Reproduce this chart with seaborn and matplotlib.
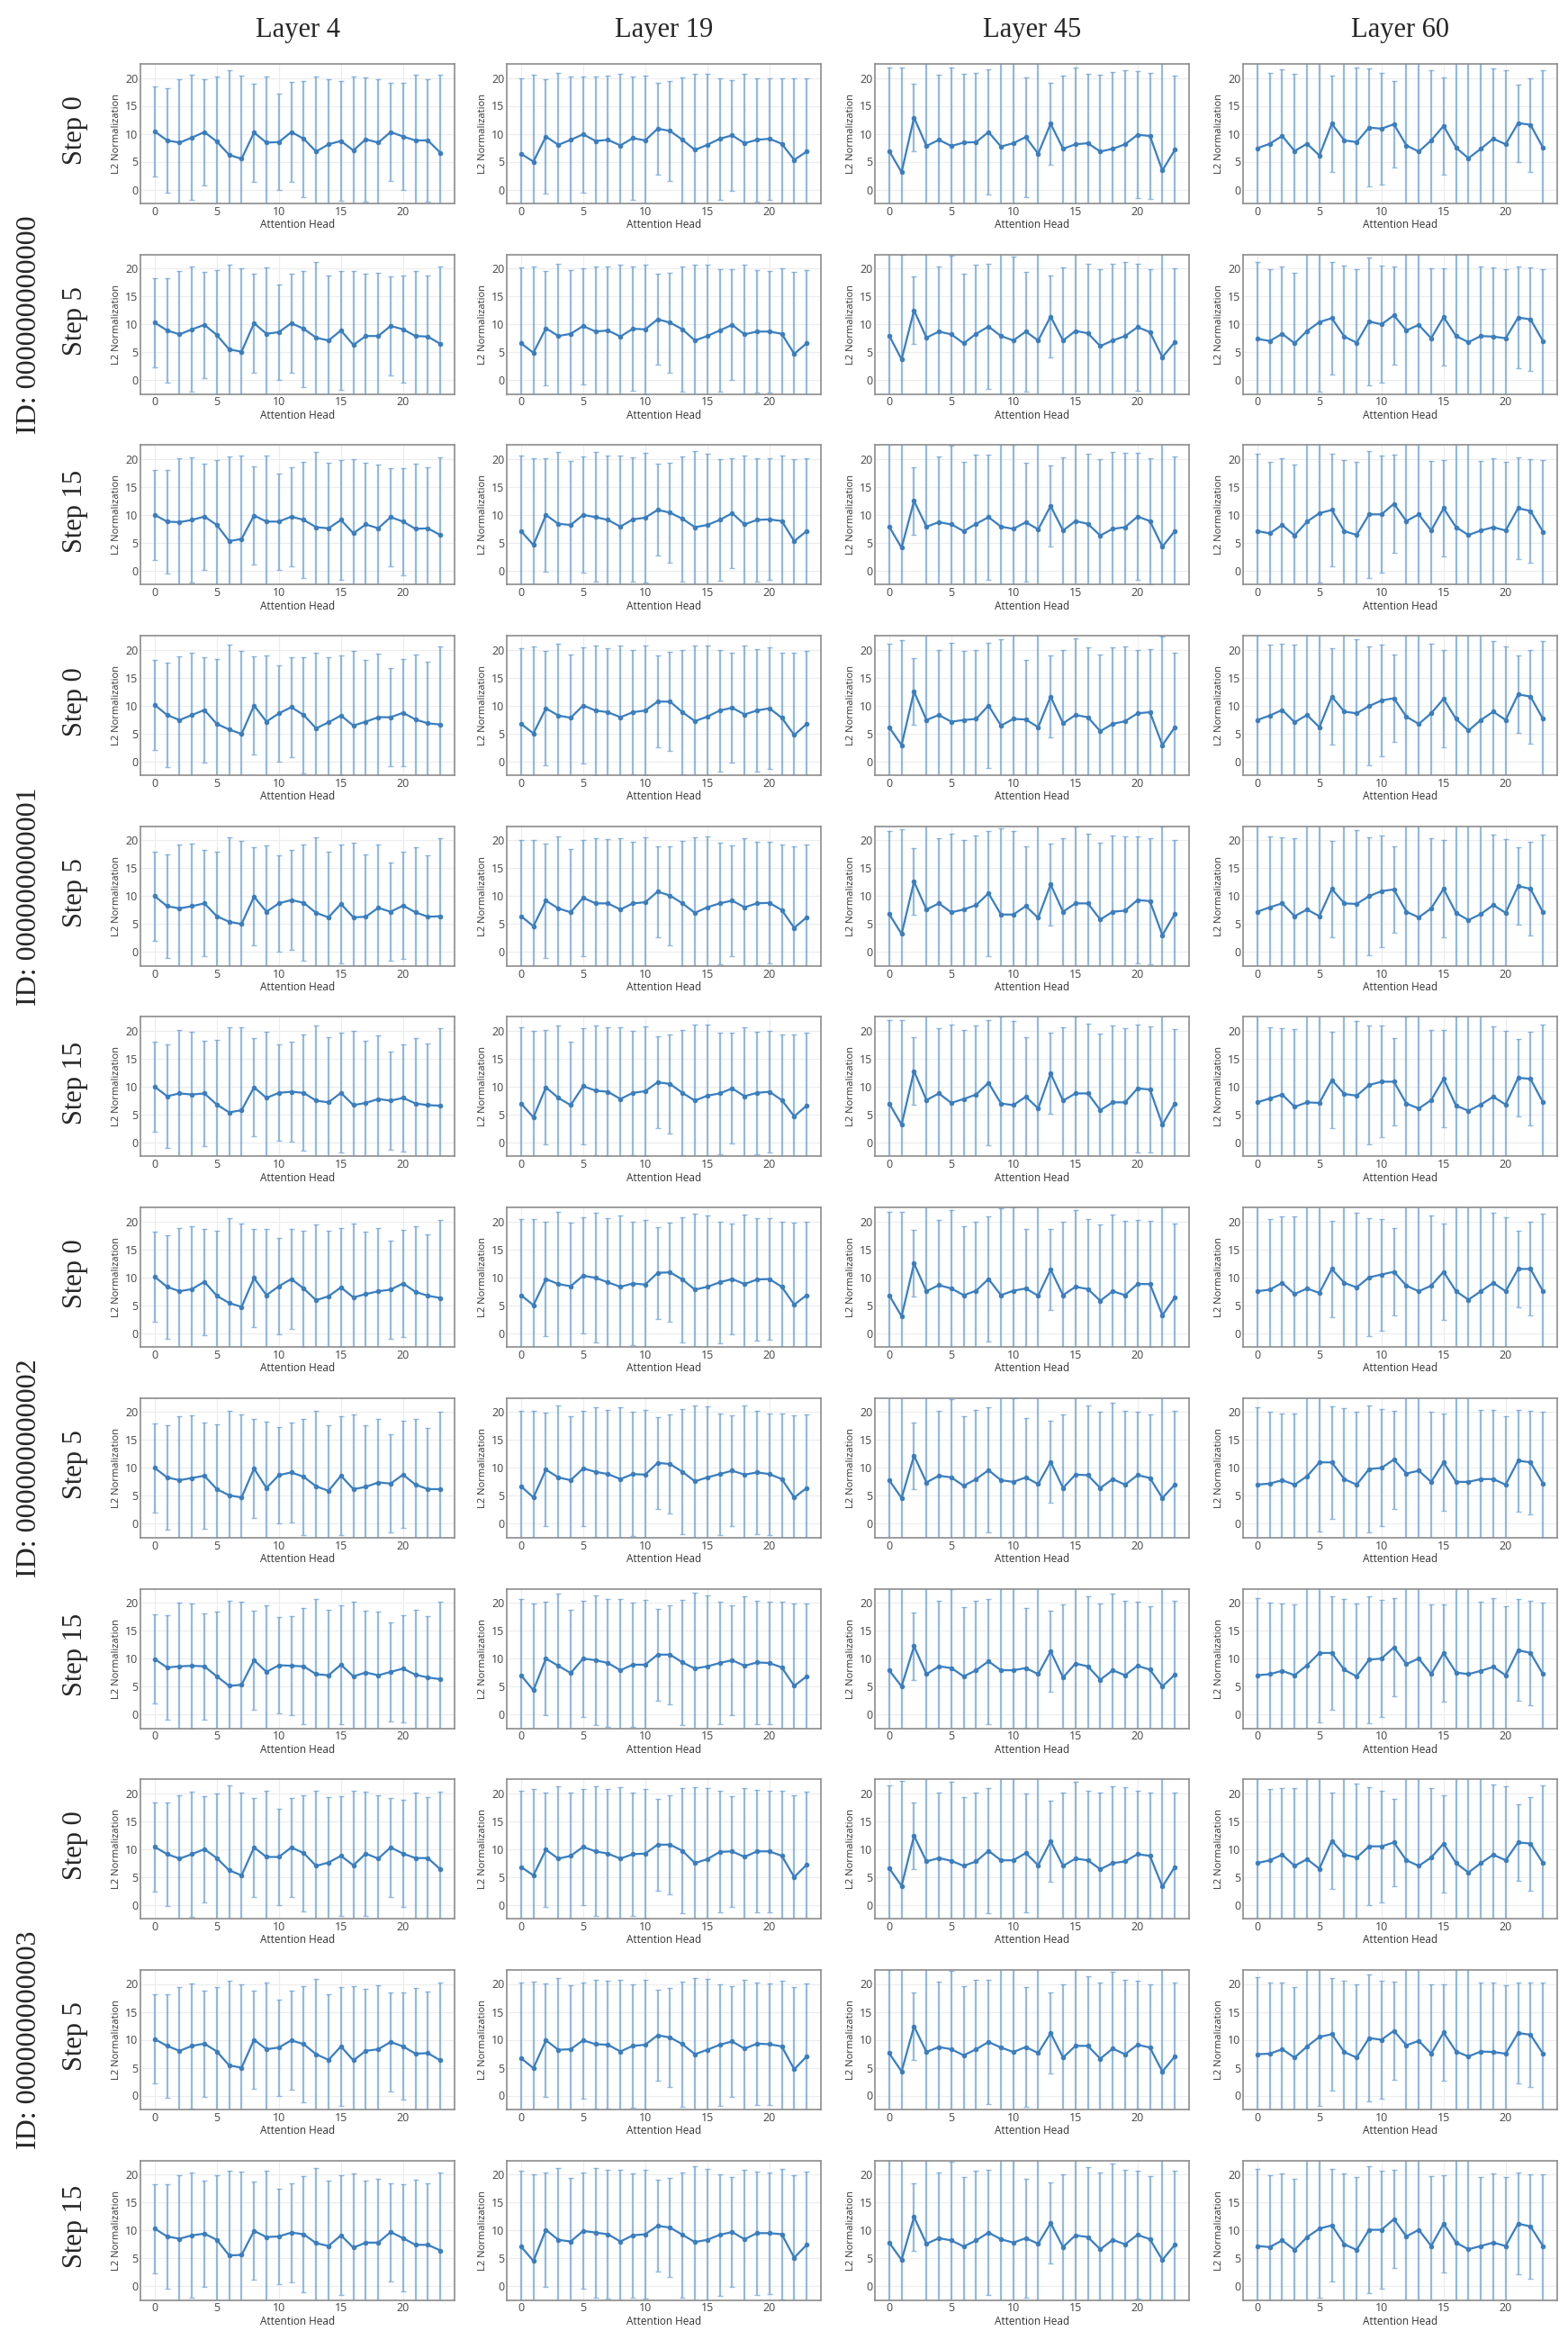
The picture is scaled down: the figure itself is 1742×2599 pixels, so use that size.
import matplotlib
matplotlib.use("Agg")
import matplotlib.pyplot as plt
import seaborn as sns

# -----------------------------
# data: mean L2 norm per attention head (24 heads)
# -----------------------------
heads = list(range(24))
layers = ["Layer 4", "Layer 19", "Layer 45", "Layer 60"]
steps = ["Step 0", "Step 5", "Step 15"]
ids = ["ID: 000000000000", "ID: 000000000001", "ID: 000000000002", "ID: 000000000003"]

# Layer 4
L4_ID0_S0 = [10.4, 8.8, 8.4, 9.3, 10.3, 8.6, 6.2, 5.5, 10.2, 8.4, 8.5, 10.3, 9.1, 6.8, 8.1, 8.7, 7.0, 9.0, 8.4, 10.3, 9.5, 8.8, 8.8, 6.6]
L4_ID0_S5 = [10.3, 8.9, 8.2, 9.1, 9.9, 8.1, 5.5, 5.1, 10.2, 8.3, 8.6, 10.2, 9.2, 7.6, 7.1, 8.9, 6.3, 7.9, 7.9, 9.7, 9.1, 7.9, 7.8, 6.5]
L4_ID0_S15 = [10.0, 8.8, 8.7, 9.1, 9.7, 8.2, 5.3, 5.7, 9.9, 8.8, 8.8, 9.7, 9.1, 7.8, 7.6, 9.1, 6.7, 8.3, 7.6, 9.6, 8.8, 7.5, 7.6, 6.4]
L4_ID1_S0 = [10.1, 8.3, 7.4, 8.3, 9.2, 6.7, 5.7, 4.9, 10.0, 7.1, 8.6, 9.7, 8.3, 5.9, 7.0, 8.2, 6.4, 7.1, 7.9, 7.9, 8.7, 7.5, 6.8, 6.6]
L4_ID1_S5 = [10.0, 8.2, 7.8, 8.2, 8.7, 6.4, 5.4, 5.0, 9.9, 7.2, 8.7, 9.3, 8.8, 7.0, 6.2, 8.6, 6.2, 6.3, 7.9, 7.2, 8.3, 7.1, 6.3, 6.4]
L4_ID1_S15 = [10.0, 8.3, 8.8, 8.6, 8.8, 6.8, 5.4, 5.8, 9.9, 8.0, 8.9, 9.1, 8.9, 7.5, 7.2, 8.9, 6.7, 7.1, 7.8, 7.5, 8.0, 7.0, 6.7, 6.6]
L4_ID2_S0 = [10.1, 8.3, 7.5, 7.9, 9.2, 6.7, 5.4, 4.7, 9.9, 6.8, 8.4, 9.7, 8.0, 5.9, 6.6, 8.2, 6.4, 7.0, 7.5, 7.8, 8.9, 7.4, 6.7, 6.3]
L4_ID2_S5 = [10.0, 8.3, 7.8, 8.2, 8.6, 6.2, 5.1, 4.7, 9.9, 6.4, 8.7, 9.2, 8.4, 6.7, 5.9, 8.6, 6.2, 6.6, 7.4, 7.2, 8.8, 7.0, 6.2, 6.2]
L4_ID2_S15 = [9.9, 8.4, 8.6, 8.7, 8.6, 6.8, 5.1, 5.3, 9.7, 7.6, 8.8, 8.7, 8.6, 7.2, 7.0, 8.9, 6.8, 7.5, 7.0, 7.6, 8.2, 7.1, 6.6, 6.3]
L4_ID3_S0 = [10.4, 9.1, 8.3, 9.1, 10.0, 8.4, 6.2, 5.3, 10.3, 8.6, 8.6, 10.3, 9.3, 7.0, 7.6, 8.8, 7.1, 9.2, 8.3, 10.3, 9.2, 8.4, 8.4, 6.4]
L4_ID3_S5 = [10.1, 8.9, 8.0, 8.9, 9.3, 7.9, 5.4, 5.0, 10.0, 8.3, 8.6, 9.9, 9.2, 7.4, 6.4, 8.8, 6.3, 8.0, 8.3, 9.6, 8.8, 7.5, 7.6, 6.3]
L4_ID3_S15 = [10.3, 8.9, 8.5, 9.1, 9.4, 8.3, 5.5, 5.6, 9.9, 8.8, 8.9, 9.6, 9.3, 7.7, 7.2, 9.1, 6.9, 7.8, 7.8, 9.7, 8.6, 7.4, 7.4, 6.4]

# Layer 19
L19_ID0_S0 = [6.4, 5.0, 9.5, 8.0, 8.9, 9.9, 8.7, 8.9, 7.9, 9.2, 8.8, 10.9, 10.5, 8.9, 7.1, 8.0, 9.1, 9.7, 8.3, 8.9, 9.1, 8.2, 5.3, 6.8]
L19_ID0_S5 = [6.6, 4.9, 9.3, 7.9, 8.3, 9.7, 8.7, 8.9, 7.8, 9.2, 9.1, 10.9, 10.3, 9.1, 7.1, 7.9, 8.9, 9.9, 8.2, 8.7, 8.7, 8.3, 4.7, 6.6]
L19_ID0_S15 = [7.1, 4.6, 10.0, 8.4, 8.2, 10.0, 9.6, 9.1, 7.9, 9.2, 9.5, 10.9, 10.4, 9.3, 7.8, 8.2, 9.1, 10.3, 8.3, 9.1, 9.2, 8.9, 5.3, 7.1]
L19_ID1_S0 = [6.7, 5.0, 9.5, 8.2, 7.8, 10.0, 9.1, 8.8, 7.9, 8.8, 9.1, 10.7, 10.7, 8.8, 7.2, 8.0, 9.1, 9.6, 8.4, 9.1, 9.5, 7.8, 4.7, 6.7]
L19_ID1_S5 = [6.4, 4.6, 9.2, 7.8, 7.1, 9.7, 8.7, 8.7, 7.6, 8.7, 8.9, 10.8, 10.1, 8.7, 7.0, 8.0, 8.7, 9.2, 8.0, 8.7, 8.8, 7.5, 4.3, 6.2]
L19_ID1_S15 = [7.0, 4.5, 9.9, 8.0, 6.7, 10.1, 9.3, 9.1, 7.8, 8.9, 9.2, 10.8, 10.5, 8.9, 7.5, 8.4, 8.8, 9.7, 8.3, 8.9, 9.1, 7.6, 4.7, 6.6]
L19_ID2_S0 = [6.8, 5.0, 9.7, 8.8, 8.4, 10.3, 9.9, 9.1, 8.3, 8.9, 8.7, 10.8, 10.9, 9.6, 7.8, 8.3, 9.1, 9.7, 8.8, 9.6, 9.7, 8.3, 5.1, 6.8]
L19_ID2_S5 = [6.7, 4.7, 9.7, 8.3, 7.8, 9.9, 9.3, 8.9, 8.0, 8.9, 8.8, 10.9, 10.7, 9.3, 7.6, 8.3, 8.9, 9.5, 8.8, 9.2, 8.9, 8.0, 4.7, 6.4]
L19_ID2_S15 = [7.0, 4.3, 10.0, 8.7, 7.4, 10.0, 9.7, 9.2, 7.9, 8.9, 8.9, 10.7, 10.7, 9.3, 8.2, 8.6, 9.2, 9.7, 8.7, 9.3, 9.2, 8.4, 5.1, 6.8]
L19_ID3_S0 = [6.8, 5.3, 9.9, 8.3, 8.8, 10.4, 9.6, 9.2, 8.3, 9.1, 9.2, 10.8, 10.8, 9.7, 7.5, 8.2, 9.5, 9.6, 8.6, 9.6, 9.6, 8.8, 5.0, 7.2]
L19_ID3_S5 = [6.7, 4.9, 9.9, 8.2, 8.3, 9.9, 9.2, 9.1, 7.9, 8.9, 9.1, 10.8, 10.4, 9.2, 7.4, 8.2, 9.1, 9.7, 8.4, 9.3, 9.2, 8.8, 4.7, 7.0]
L19_ID3_S15 = [7.1, 4.5, 10.1, 8.3, 8.0, 9.9, 9.6, 9.3, 8.0, 9.1, 9.3, 10.8, 10.5, 9.2, 7.9, 8.3, 9.2, 9.7, 8.4, 9.5, 9.5, 9.3, 5.1, 7.4]

# Layer 45
L45_ID0_S0 = [6.9, 3.1, 12.9, 7.8, 8.9, 7.8, 8.4, 8.5, 10.3, 7.7, 8.3, 9.4, 6.4, 11.8, 7.3, 8.1, 8.3, 6.8, 7.3, 8.1, 9.8, 9.6, 3.4, 7.1]
L45_ID0_S5 = [8.0, 3.7, 12.5, 7.6, 8.7, 8.2, 6.6, 8.3, 9.6, 7.9, 7.1, 8.7, 7.1, 11.4, 7.1, 8.8, 8.4, 6.1, 7.1, 7.9, 9.5, 8.6, 4.1, 6.8]
L45_ID0_S15 = [7.9, 4.1, 12.5, 7.9, 8.7, 8.3, 7.1, 8.4, 9.6, 7.9, 7.5, 8.7, 7.4, 11.6, 7.2, 8.9, 8.4, 6.3, 7.5, 7.8, 9.7, 8.9, 4.3, 7.1]
L45_ID1_S0 = [6.1, 2.9, 12.5, 7.4, 8.3, 7.1, 7.4, 7.6, 10.0, 6.4, 7.6, 7.5, 6.1, 11.6, 6.8, 8.3, 7.9, 5.4, 6.7, 7.2, 8.6, 8.8, 2.9, 6.1]
L45_ID1_S5 = [6.8, 3.2, 12.6, 7.6, 8.7, 7.1, 7.6, 8.4, 10.5, 6.7, 6.7, 8.2, 6.1, 12.1, 7.2, 8.7, 8.7, 5.8, 7.2, 7.4, 9.3, 9.1, 3.0, 6.8]
L45_ID1_S15 = [7.0, 3.2, 12.8, 7.6, 8.8, 7.1, 7.8, 8.6, 10.7, 7.0, 6.7, 8.2, 6.1, 12.4, 7.5, 8.8, 8.8, 5.8, 7.2, 7.2, 9.7, 9.5, 3.2, 7.0]
L45_ID2_S0 = [6.8, 3.0, 12.5, 7.5, 8.6, 8.0, 6.8, 7.6, 9.7, 6.8, 7.6, 8.0, 6.7, 11.4, 6.8, 8.3, 7.9, 5.8, 7.5, 6.8, 8.8, 8.8, 3.2, 6.4]
L45_ID2_S5 = [7.8, 4.6, 12.2, 7.4, 8.6, 8.3, 6.8, 8.0, 9.6, 7.8, 7.5, 8.3, 7.1, 11.1, 6.4, 8.8, 8.7, 6.4, 8.0, 7.0, 8.7, 8.2, 4.6, 7.0]
L45_ID2_S15 = [7.9, 5.0, 12.2, 7.2, 8.6, 8.3, 6.8, 7.9, 9.5, 7.9, 7.9, 8.3, 7.2, 11.3, 6.6, 9.1, 8.6, 6.2, 7.9, 7.0, 8.7, 8.0, 5.0, 7.1]
L45_ID3_S0 = [6.6, 3.4, 12.4, 7.8, 8.4, 7.9, 7.0, 7.8, 9.7, 8.0, 8.0, 9.3, 7.1, 11.4, 7.0, 8.3, 8.0, 6.4, 7.5, 7.8, 9.1, 8.8, 3.3, 6.8]
L45_ID3_S5 = [7.6, 4.3, 12.4, 7.8, 8.7, 8.3, 7.2, 8.3, 9.6, 8.6, 7.8, 8.7, 7.6, 11.2, 6.8, 8.9, 8.9, 6.6, 8.4, 7.4, 9.1, 8.6, 4.3, 7.0]
L45_ID3_S15 = [7.8, 4.7, 12.4, 7.6, 8.6, 8.2, 7.1, 8.2, 9.6, 8.4, 7.8, 8.6, 7.6, 11.3, 7.0, 9.1, 8.8, 6.6, 8.3, 7.5, 9.2, 8.4, 4.7, 7.4]

# Layer 60
L60_ID0_S0 = [7.4, 8.2, 9.6, 6.9, 8.2, 6.1, 11.8, 8.8, 8.5, 11.1, 10.9, 11.7, 7.9, 6.8, 8.8, 11.4, 7.5, 5.6, 7.3, 9.1, 8.1, 11.9, 11.6, 7.5]
L60_ID0_S5 = [7.4, 7.0, 8.3, 6.6, 8.8, 10.4, 11.1, 7.8, 6.7, 10.5, 10.0, 11.6, 8.9, 9.9, 7.5, 11.3, 7.9, 6.8, 7.9, 7.8, 7.5, 11.2, 10.9, 7.0]
L60_ID0_S15 = [7.1, 6.7, 8.2, 6.3, 8.8, 10.3, 10.9, 7.1, 6.4, 10.1, 10.1, 12.0, 8.9, 10.1, 7.2, 11.2, 7.8, 6.4, 7.2, 7.8, 7.2, 11.2, 10.7, 7.0]
L60_ID1_S0 = [7.4, 8.2, 9.2, 7.0, 8.3, 6.1, 11.6, 8.9, 8.6, 9.9, 10.9, 11.3, 8.0, 6.7, 8.6, 11.2, 7.6, 5.5, 7.4, 8.9, 7.4, 12.0, 11.6, 7.6]
L60_ID1_S5 = [7.2, 8.0, 8.7, 6.4, 7.6, 6.4, 11.3, 8.7, 8.6, 10.0, 10.9, 11.2, 7.2, 6.2, 7.8, 11.3, 7.0, 5.7, 6.8, 8.4, 7.0, 11.8, 11.3, 7.1]
L60_ID1_S15 = [7.2, 7.9, 8.6, 6.4, 7.2, 7.1, 11.2, 8.7, 8.4, 10.3, 10.9, 10.9, 7.0, 6.1, 7.6, 11.4, 6.6, 5.7, 6.8, 8.2, 6.8, 11.6, 11.4, 7.2]
L60_ID2_S0 = [7.5, 7.8, 9.0, 7.0, 8.0, 7.2, 11.5, 9.0, 8.2, 10.0, 10.5, 11.0, 8.5, 7.5, 8.5, 11.0, 7.5, 6.0, 7.5, 9.0, 7.5, 11.5, 11.5, 7.5]
L60_ID2_S5 = [7.0, 7.2, 7.8, 7.0, 8.5, 11.0, 11.0, 8.0, 7.0, 9.8, 10.0, 11.5, 9.0, 9.5, 7.5, 11.0, 7.5, 7.5, 8.0, 8.0, 7.0, 11.3, 11.0, 7.2]
L60_ID2_S15 = [7.0, 7.2, 7.8, 7.0, 8.8, 11.0, 11.0, 8.0, 6.8, 9.8, 10.0, 12.0, 9.0, 10.0, 7.2, 11.0, 7.5, 7.2, 7.8, 8.5, 7.0, 11.5, 11.0, 7.2]
L60_ID3_S0 = [7.5, 8.0, 9.0, 7.0, 8.2, 6.5, 11.5, 9.0, 8.5, 10.5, 10.5, 11.2, 8.0, 7.0, 8.5, 11.0, 7.5, 5.8, 7.5, 9.0, 8.0, 11.2, 11.0, 7.5]
L60_ID3_S5 = [7.4, 7.5, 8.3, 6.8, 8.8, 10.5, 11.0, 7.8, 6.8, 10.3, 10.0, 11.6, 9.0, 9.8, 7.5, 11.3, 7.9, 7.0, 7.9, 7.8, 7.5, 11.2, 10.9, 7.5]
L60_ID3_S15 = [7.2, 7.0, 8.2, 6.5, 8.8, 10.3, 10.9, 7.5, 6.5, 10.1, 10.1, 12.0, 8.9, 10.1, 7.2, 11.2, 7.8, 6.6, 7.2, 7.8, 7.2, 11.2, 10.7, 7.2]

# error bar half-widths (std) per head
SD_L4 = [8.0, 9.3, 11.4, 11.2, 9.5, 11.6, 15.2, 14.9, 8.8, 11.9, 8.6, 8.9, 10.4, 13.5, 11.7, 10.7, 13.3, 11.1, 11.4, 8.8, 9.6, 11.7, 11.0, 13.9]
SD_L19 = [13.6, 15.5, 10.2, 12.9, 11.4, 10.4, 11.6, 11.5, 12.8, 11.1, 11.6, 8.2, 8.9, 11.2, 13.6, 12.7, 10.9, 9.9, 12.4, 11.0, 10.9, 11.7, 14.7, 13.1]
SD_L45 = [14.9, 18.8, 6.0, 16.0, 11.7, 14.1, 12.4, 12.4, 11.2, 15.5, 15.0, 10.7, 17.0, 7.3, 13.1, 13.8, 12.5, 13.7, 13.7, 13.3, 11.4, 11.3, 19.5, 13.3]
SD_L60_A = [16.0, 12.7, 11.9, 13.9, 16.0, 17.0, 8.6, 15.0, 13.3, 10.6, 10.0, 7.8, 15.5, 17.0, 12.5, 8.7, 16.0, 18.0, 16.0, 12.6, 13.2, 6.9, 8.4, 13.9]
SD_L60_B = [13.8, 12.8, 12.0, 12.7, 16.0, 12.4, 10.1, 12.7, 13.1, 11.4, 10.5, 8.8, 15.0, 15.0, 12.5, 8.7, 16.0, 17.0, 12.4, 12.4, 12.3, 9.1, 9.3, 12.8]

means = {
    "Layer 4": [L4_ID0_S0, L4_ID0_S5, L4_ID0_S15, L4_ID1_S0, L4_ID1_S5, L4_ID1_S15,
                L4_ID2_S0, L4_ID2_S5, L4_ID2_S15, L4_ID3_S0, L4_ID3_S5, L4_ID3_S15],
    "Layer 19": [L19_ID0_S0, L19_ID0_S5, L19_ID0_S15, L19_ID1_S0, L19_ID1_S5, L19_ID1_S15,
                 L19_ID2_S0, L19_ID2_S5, L19_ID2_S15, L19_ID3_S0, L19_ID3_S5, L19_ID3_S15],
    "Layer 45": [L45_ID0_S0, L45_ID0_S5, L45_ID0_S15, L45_ID1_S0, L45_ID1_S5, L45_ID1_S15,
                 L45_ID2_S0, L45_ID2_S5, L45_ID2_S15, L45_ID3_S0, L45_ID3_S5, L45_ID3_S15],
    "Layer 60": [L60_ID0_S0, L60_ID0_S5, L60_ID0_S15, L60_ID1_S0, L60_ID1_S5, L60_ID1_S15,
                 L60_ID2_S0, L60_ID2_S5, L60_ID2_S15, L60_ID3_S0, L60_ID3_S5, L60_ID3_S15],
}
sds = {
    "Layer 4": [SD_L4] * 12,
    "Layer 19": [SD_L19] * 12,
    "Layer 45": [SD_L45] * 12,
    "Layer 60": [SD_L60_A, SD_L60_B, SD_L60_B, SD_L60_A, SD_L60_A, SD_L60_A,
                 SD_L60_A, SD_L60_B, SD_L60_B, SD_L60_A, SD_L60_B, SD_L60_B],
}

# -----------------------------
# figure
# -----------------------------
sns.set_theme(style="whitegrid")
plt.rcParams['font.family'] = ['Open Sans', 'DejaVu Sans']

W, H = 1742, 2599
fig = plt.figure(figsize=(W / 100, H / 100), dpi=100)

col_left = [156, 563, 972, 1381]
panel_w, panel_h = 349, 155
row_top0, row_pitch = 71, 211.7
line_color = "#3a7ebf"
serif = ['Liberation Serif', 'DejaVu Serif']

for c, layer in enumerate(layers):
    for r in range(12):
        top = row_top0 + r * row_pitch
        ax = fig.add_axes([col_left[c] / W, 1 - (top + panel_h) / H, panel_w / W, panel_h / H])
        m = means[layer][r]
        s = sds[layer][r]
        ax.errorbar(heads, m, yerr=s, fmt='none', ecolor="#6fa3d6", alpha=0.75,
                    elinewidth=1.6, capsize=2.2, capthick=1.0, zorder=2)
        sns.lineplot(x=heads, y=m, ax=ax, color=line_color, marker='o', markersize=4,
                     markeredgewidth=0, linewidth=1.6, zorder=3)
        ax.set_xlim(-1.15, 24.15)
        ax.set_ylim(-2.5, 22.5)
        ax.set_xticks([0, 5, 10, 15, 20])
        ax.set_yticks([0, 5, 10, 15, 20])
        ax.tick_params(labelsize=9, colors="#444444", pad=2, length=0)
        ax.set_xlabel("Attention Head", fontsize=8.5, color="#333333", labelpad=1)
        ax.set_ylabel("L2 Normalization", fontsize=8, color="#333333", labelpad=3)
        ax.grid(True, color="#ececec", linewidth=0.8)
        for sp in ax.spines.values():
            sp.set_color("#8c8c8c")
            sp.set_linewidth(1.2)

    # column header
    fig.text((col_left[c] + panel_w / 2) / W, 1 - 33 / H, layer, ha='center', va='center',
             fontsize=22, family=serif)

# step labels
for r in range(12):
    top = row_top0 + r * row_pitch
    fig.text(83 / W, 1 - (top + panel_h / 2 - 4) / H, steps[r % 3], rotation=90,
             ha='center', va='center', fontsize=22, family=serif)

# ID labels
for g in range(4):
    center = row_top0 + (3 * g + 1) * row_pitch + panel_h / 2
    fig.text(32 / W, 1 - center / H, ids[g], rotation=90, ha='center', va='center',
             fontsize=23, family=serif)

fig.savefig("out.png", dpi=100)
